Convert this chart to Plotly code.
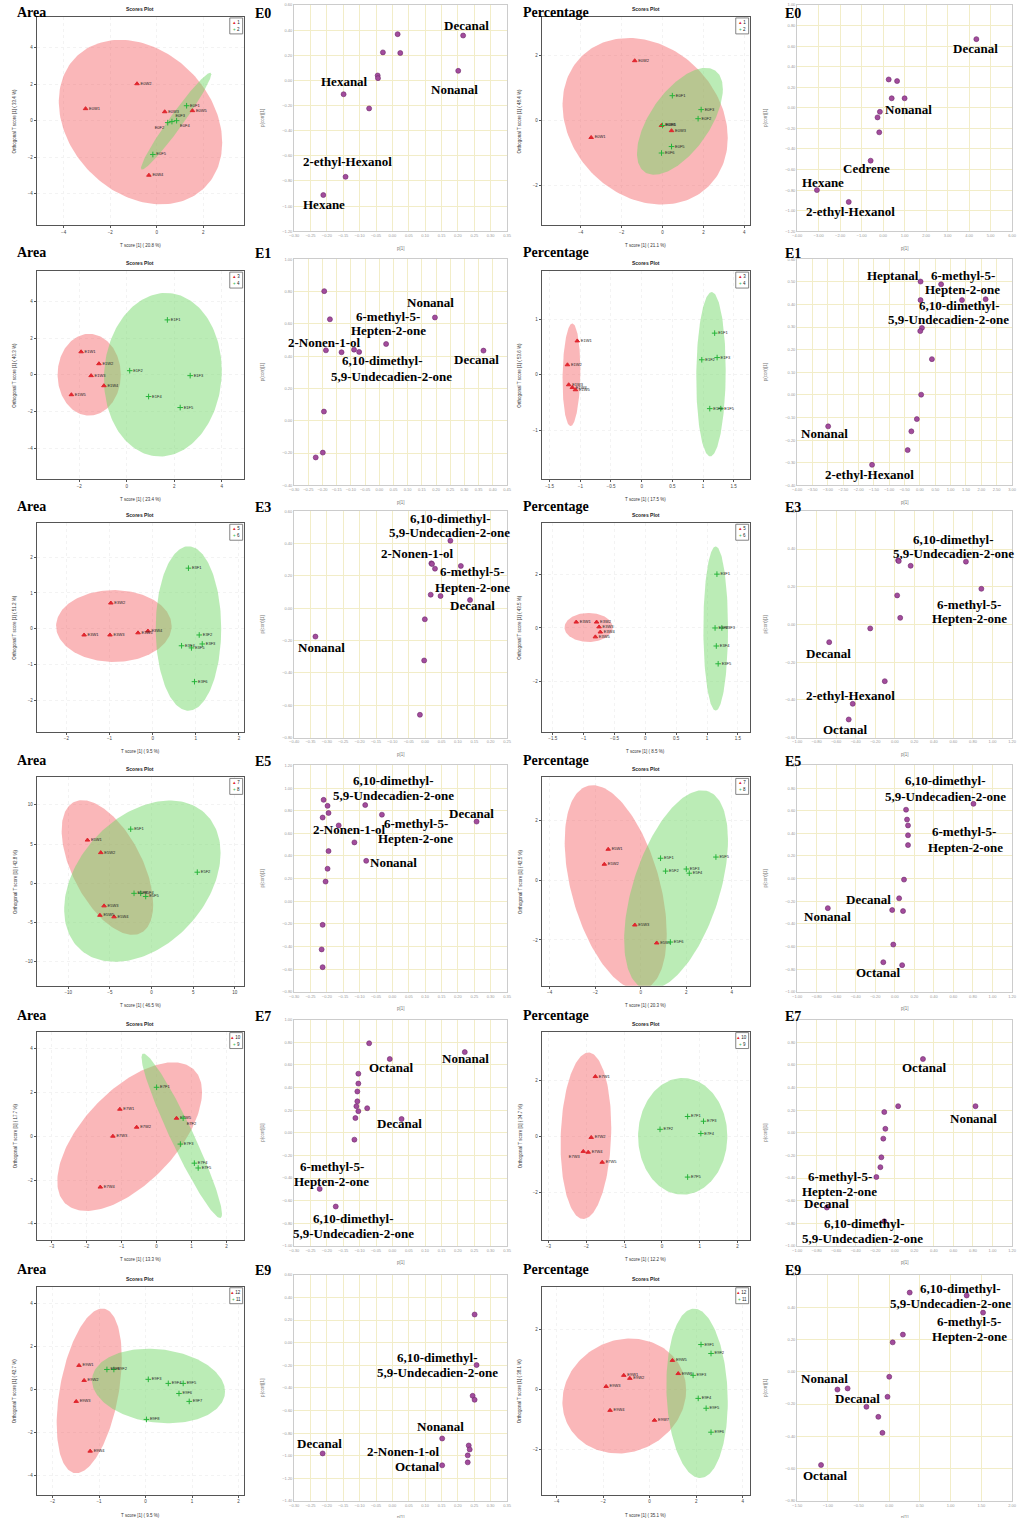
import numpy as np
import plotly.graph_objects as go

W, H = 1020, 1518

# =====================================================================
# Scores plots (OPLS-DA): (T score [1], Orthogonal T score [1], sample)
# group 1 = red, group 2 = green
# =====================================================================
e0_area_g1 = [(-3.06, 0.66, "E0W1"), (-0.85, 2.03, "E0W2"), (0.34, 0.49, "E0W3"),
              (-0.34, -3.00, "E0W4"), (1.53, 0.55, "E0W5")]
e0_area_g2 = [(1.28, 0.82, "E0F1"), (0.47, -0.11, "E0F2"), (0.65, -0.05, "E0F3"),
              (0.85, 0.00, "E0F4"), (-0.17, -1.86, "E0F5")]
e0_pct_g1 = [(-1.36, 1.85, "E0W2"), (-3.49, -0.52, "E0W1"), (0.44, -0.31, "E0W3"),
             (-0.05, -0.15, "E0W5")]
e0_pct_g2 = [(0.48, 0.77, "E0F1"), (1.89, 0.34, "E0F3"), (1.74, 0.06, "E0F2"),
             (0.00, -0.15, "E0F4"), (0.44, -0.80, "E0F5"), (-0.05, -1.00, "E0F6")]

e1_area_g1 = [(-1.92, 1.25, "E1W1"), (-1.17, 0.60, "E1W2"), (-1.50, -0.05, "E1W3"),
              (-0.96, -0.60, "E1W4"), (-2.33, -1.09, "E1W5")]
e1_area_g2 = [(1.71, 2.99, "E1F1"), (0.125, 0.22, "E1F2"), (2.67, -0.05, "E1F3"),
              (0.92, -1.19, "E1F4"), (2.25, -1.79, "E1F5")]
e1_pct_g1 = [(-1.05, 0.61, "E1W1"), (-1.21, 0.18, "E1W2"), (-1.19, -0.18, "E1W3"),
             (-1.13, -0.23, "E1W4"), (-1.08, -0.27, "E1W5")]
e1_pct_g2 = [(1.19, 0.75, "E1F1"), (0.98, 0.27, "E1F2"), (1.23, 0.31, "E1F3"),
             (1.11, -0.61, "E1F4"), (1.29, -0.61, "E1F5")]

e3_area_g1 = [(-0.97, 0.72, "E3W2"), (-1.59, -0.17, "E3W1"), (-0.99, -0.17, "E3W3"),
              (-0.34, -0.11, "E3W5"), (-0.11, -0.06, "E3W4")]
e3_area_g2 = [(0.83, 1.69, "E3F1"), (1.08, -0.17, "E3F2"), (1.15, -0.42, "E3F3"),
              (0.67, -0.47, "E3F4"), (0.90, -0.53, "E3F5"), (0.97, -1.47, "E3F6")]
e3_pct_g1 = [(-1.12, 0.22, "E3W1"), (-0.79, 0.22, "E3W2"), (-0.75, 0.04, "E3W3"),
             (-0.73, -0.15, "E3W4"), (-0.81, -0.33, "E3W5")]
e3_pct_g2 = [(1.16, 2.00, "E3F1"), (1.13, 0.00, "E3F2"), (1.24, 0.00, "E3F3"),
             (1.15, -0.67, "E3F4"), (1.18, -1.33, "E3F5")]

e5_area_g1 = [(-7.7, 5.5, "E5W1"), (-6.1, 3.9, "E5W2"), (-5.7, -2.9, "E5W3"),
              (-4.5, -4.3, "E5W4"), (-6.2, -4.1, "E5W5")]
e5_area_g2 = [(-2.5, 6.9, "E5F1"), (5.5, 1.4, "E5F2"), (-2.1, -1.3, "E5F3"),
              (-1.3, -1.3, "E5F4"), (-0.7, -1.7, "E5F5")]
e5_pct_g1 = [(-1.43, 1.03, "E5W1"), (-1.60, 0.53, "E5W2"), (-0.26, -1.50, "E5W3"),
             (0.70, -2.10, "E5W4")]
e5_pct_g2 = [(0.87, 0.73, "E5F1"), (1.09, 0.30, "E5F2"), (2.00, 0.37, "E5F3"),
             (2.13, 0.23, "E5F4"), (3.30, 0.77, "E5F5"), (1.30, -2.07, "E5F6")]

e7_area_g1 = [(-1.05, 1.23, "E7W1"), (-0.57, 0.41, "E7W2"), (-1.25, 0.00, "E7W3"),
              (-1.61, -2.32, "E7W4"), (0.57, 0.82, "E7W5")]
e7_area_g2 = [(0.00, 2.23, "E7F1"), (0.76, 0.82, "E7F2"), (0.68, -0.36, "E7F3"),
              (1.08, -1.23, "E7F4"), (1.19, -1.45, "E7F5")]
e7_pct_g1 = [(-1.76, 2.14, "E7W1"), (-1.87, -0.04, "E7W2"), (-2.08, -0.54, "E7W3"),
             (-1.95, -0.57, "E7W4"), (-1.58, -0.93, "E7W5")]
e7_pct_g2 = [(0.68, 0.71, "E7F1"), (-0.05, 0.25, "E7F2"), (1.10, 0.54, "E7F3"),
             (1.03, 0.10, "E7F4"), (0.68, -1.46, "E7F5")]

e9_area_g1 = [(-1.43, 1.12, "E9W1"), (-1.32, 0.42, "E9W2"), (-1.49, -0.56, "E9W3"),
              (-1.19, -2.88, "E9W4")]
e9_area_g2 = [(-0.83, 0.93, "E9F1"), (-0.68, 0.93, "E9F2"), (0.06, 0.47, "E9F3"),
              (0.49, 0.28, "E9F4"), (0.81, 0.28, "E9F5"), (0.72, -0.19, "E9F6"),
              (0.94, -0.56, "E9F7"), (0.02, -1.40, "E9F8")]
e9_pct_g1 = [(-1.11, 0.47, "E9W1"), (-0.85, 0.37, "E9W2"), (-1.87, 0.10, "E9W3"),
             (-1.70, -0.70, "E9W4"), (0.98, 0.97, "E9W5"), (1.23, 0.53, "E9W6"),
             (0.21, -1.03, "E9W7")]
e9_pct_g2 = [(2.21, 1.50, "E9F1"), (2.64, 1.20, "E9F2"), (1.87, 0.47, "E9F3"),
             (2.09, -0.30, "E9F4"), (2.43, -0.63, "E9F5"), (2.64, -1.43, "E9F6")]

# confidence ellipses per scores plot: (centre x, half-width, centre y, half-height, correlation)
e0_area_ell = [(-0.70, 3.51, -0.08, 4.52, -0.25), (0.83, 1.51, -0.03, 2.66, 0.97)]
e0_pct_ell = [(-0.85, 4.04, -0.02, 2.57, -0.20), (0.85, 2.10, -0.02, 1.65, 0.60)]
e1_area_ell = [(-1.58, 1.33, 0.00, 2.23, 0.00), (1.52, 2.48, 0.00, 4.46, 0.05)]
e1_pct_ell = [(-1.145, 0.145, 0.00, 0.925, 0.10), (1.13, 0.24, 0.01, 1.48, 0.05)]
e3_area_ell = [(-0.90, 1.34, 0.08, 1.00, 0.00), (0.83, 0.76, 0.01, 2.29, 0.00)]
e3_pct_ell = [(-0.92, 0.39, 0.02, 0.54, 0.00), (1.14, 0.20, -0.02, 3.05, 0.00)]
e5_area_ell = [(-5.3, 5.5, 2.0, 8.6, -0.55), (-1.1, 9.4, 0.25, 10.3, 0.35)]
e5_pct_ell = [(-1.10, 2.24, -0.25, 3.42, -0.45), (1.55, 2.28, -0.33, 3.33, 0.50)]
e7_area_ell = [(-0.77, 2.07, -0.02, 3.39, 0.60), (0.72, 1.15, 0.02, 3.75, -0.95)]
e7_pct_ell = [(-2.01, 0.67, 0.02, 2.98, 0.10), (0.55, 1.18, 0.00, 2.09, 0.00)]
e9_area_ell = [(-1.21, 0.70, -0.07, 3.84, 0.40), (0.28, 1.43, 0.16, 1.74, -0.15)]
e9_pct_ell = [(-1.09, 2.66, -0.22, 1.92, 0.10), (2.04, 1.32, -0.13, 2.83, -0.10)]

# class names shown in each scores-plot legend
classes = [("1", "2"), ("3", "4"), ("5", "6"), ("7", "8"), ("10", "9"), ("12", "11")]
area_x_titles = ["T score [1] ( 20.8 %)", "T score [1] ( 23.4 %)", "T score [1] ( 9.5 %)",
                 "T score [1] ( 46.5 %)", "T score [1] ( 13.3 %)", "T score [1] ( 9.5 %)"]
area_y_titles = ["Orthogonal T score [1] ( 33.4 %)", "Orthogonal T score [1] ( 40.3 %)",
                 "Orthogonal T score [1] ( 51.2 %)", "Orthogonal T score [1] ( 42.8 %)",
                 "Orthogonal T score [1] ( 17.7 %)", "Orthogonal T score [1] ( 42.7 %)"]
pct_x_titles = ["T score [1] ( 21.1 %)", "T score [1] ( 17.5 %)", "T score [1] ( 8.5 %)",
                "T score [1] ( 20.3 %)", "T score [1] ( 12.2 %)", "T score [1] ( 35.1 %)"]
pct_y_titles = ["Orthogonal T score [1] ( 48.4 %)", "Orthogonal T score [1] ( 53.6 %)",
                "Orthogonal T score [1] ( 43.5 %)", "Orthogonal T score [1] ( 42.5 %)",
                "Orthogonal T score [1] ( 34.7 %)", "Orthogonal T score [1] ( 38.1 %)"]

# =====================================================================
# Loadings S-plots: (p[1], p(corr)[1])
# =====================================================================
e0_area_load = [(0.016, 0.368), (0.216, 0.357), (-0.029, 0.223), (0.024, 0.218),
                (0.201, 0.076), (-0.045, 0.039), (-0.044, 0.018), (-0.149, -0.110),
                (-0.071, -0.223), (-0.143, -0.767), (-0.211, -0.912)]
e0_pct_load = [(4.34, 0.668), (0.26, 0.276), (0.65, 0.26), (0.40, 0.093), (1.00, 0.093),
               (-0.15, -0.039), (-0.26, -0.093), (-0.18, -0.238), (-0.58, -0.514),
               (-3.08, -0.80), (-1.60, -0.915)]
e1_area_load = [(-0.194, 0.802), (-0.174, 0.628), (-0.188, 0.436), (-0.133, 0.424),
                (-0.089, 0.440), (-0.071, 0.426), (0.024, 0.475), (0.196, 0.639),
                (0.367, 0.434), (-0.195, 0.057), (-0.199, -0.197), (-0.224, -0.227)]
e1_pct_load = [(0.02, 0.501), (0.69, 0.489), (0.02, 0.419), (1.37, 0.419), (2.14, 0.423),
               (0.065, 0.296), (0.01, 0.282), (0.39, 0.158), (0.04, 0.001),
               (-0.10, -0.107), (-0.28, -0.161), (-0.40, -0.244), (-1.56, -0.309),
               (-2.99, -0.139)]
e3_area_load = [(0.077, 0.418), (0.019, 0.278), (0.021, 0.274), (0.030, 0.245),
                (0.109, 0.262), (0.017, 0.084), (0.047, 0.076), (0.137, 0.051),
                (-0.001, -0.068), (-0.003, -0.323), (-0.016, -0.659), (-0.335, -0.175)]
e3_pct_load = [(0.034, 0.340), (0.040, 0.336), (0.162, 0.311), (0.728, 0.333),
               (0.886, 0.189), (0.024, 0.154), (0.055, 0.035), (-0.252, -0.021),
               (-0.672, -0.094), (-0.103, -0.301), (-0.431, -0.421), (-0.472, -0.504)]
e5_area_load = [(-0.210, 0.896), (-0.198, 0.843), (-0.195, 0.780), (-0.213, 0.740),
                (-0.164, 0.670), (-0.083, 0.850), (-0.032, 0.765), (-0.116, 0.520),
                (-0.080, 0.357), (-0.195, 0.443), (-0.198, 0.287), (-0.204, 0.174),
                (-0.213, -0.209), (-0.216, -0.426), (-0.213, -0.583), (0.257, 0.704)]
e5_pct_load = [(0.805, 0.661), (0.115, 0.609), (0.125, 0.522), (0.135, 0.470),
               (0.135, 0.383), (0.135, 0.296), (0.094, -0.009), (0.044, -0.174),
               (-0.027, -0.278), (0.084, -0.287), (-0.686, -0.261), (-0.016, -0.583),
               (0.075, -0.765), (-0.118, -0.739)]
e7_area_load = [(-0.071, 0.791), (-0.104, 0.522), (-0.104, 0.435), (-0.008, 0.652),
                (-0.107, 0.365), (-0.107, 0.278), (-0.110, 0.235), (-0.104, 0.191),
                (-0.077, 0.217), (-0.113, 0.130), (-0.116, -0.061), (0.028, 0.122),
                (0.221, 0.713), (-0.222, -0.496), (-0.173, -0.652)]
e7_pct_load = [(0.288, 0.652), (0.034, 0.235), (-0.108, 0.183), (-0.097, 0.035),
               (-0.118, -0.052), (-0.138, -0.217), (-0.148, -0.304), (-0.189, -0.391),
               (0.826, 0.235), (-0.696, -0.661), (-0.108, -0.783)]
e9_area_load = [(0.251, 0.249), (0.257, -0.198), (0.245, -0.470), (0.251, -0.505),
                (0.152, -0.847), (0.233, -0.909), (0.236, -0.944), (0.230, -0.996),
                (0.230, -1.058), (0.152, -1.084), (-0.213, -0.979)]
e9_pct_load = [(0.333, 0.490), (1.261, 0.472), (1.528, 0.366), (0.222, 0.230),
               (0.056, 0.182), (0.000, -0.031), (-0.678, -0.103), (-0.844, -0.110),
               (-0.028, -0.155), (-0.372, -0.217), (-0.178, -0.279), (-0.111, -0.378),
               (-1.111, -0.577)]

# compound names written on each S-plot, with their page position (px)
e0_area_names = [("Decanal", 466, 23), ("Hexanal", 343, 79), ("Nonanal", 454, 87),
                 ("2-ethyl-Hexanol", 346, 159), ("Hexane", 322, 202)]
e0_pct_names = [("Decanal", 980, 46), ("Nonanal", 912, 107), ("Cedrene", 870, 166),
                ("Hexane", 826, 180), ("2-ethyl-Hexanol", 854, 209)]
e1_area_names = [("Nonanal", 430, 300), ("6-methyl-5-", 387, 315), ("Hepten-2-one", 387, 329),
                 ("2-Nonen-1-ol", 323, 341), ("Decanal", 476, 358),
                 ("6,10-dimethyl-", 381, 359), ("5,9-Undecadien-2-one", 390, 375)]
e1_pct_names = [("Heptanal", 897, 273), ("6-methyl-5-", 967, 273), ("Hepten-2-one", 967, 287),
                ("6,10-dimethyl-", 964, 303), ("5,9-Undecadien-2-one", 953, 318),
                ("Nonanal", 828, 432), ("2-ethyl-Hexanol", 873, 473)]
e3_area_names = [("6,10-dimethyl-", 450, 517), ("5,9-Undecadien-2-one", 449, 531),
                 ("2-Nonen-1-ol", 417, 552), ("6-methyl-5-", 472, 570),
                 ("Hepten-2-one", 472, 586), ("Decanal", 472, 604), ("Nonanal", 320, 647)]
e3_pct_names = [("6,10-dimethyl-", 958, 538), ("5,9-Undecadien-2-one", 958, 552),
                ("6-methyl-5-", 974, 603), ("Hepten-2-one", 974, 618), ("Decanal", 832, 653),
                ("2-ethyl-Hexanol", 854, 695), ("Octanal", 848, 729)]
e5_area_names = [("6,10-dimethyl-", 392, 780), ("5,9-Undecadien-2-one", 392, 795),
                 ("Decanal", 471, 813), ("6-methyl-5-", 415, 823), ("2-Nonen-1-ol", 348, 829),
                 ("Hepten-2-one", 415, 838), ("Nonanal", 392, 862)]
e5_pct_names = [("6,10-dimethyl-", 950, 780), ("5,9-Undecadien-2-one", 950, 796),
                ("6-methyl-5-", 968, 831), ("Hepten-2-one", 970, 847), ("Decanal", 872, 899),
                ("Nonanal", 831, 917), ("Octanal", 882, 973)]
e7_area_names = [("Nonanal", 465, 1059), ("Octanal", 390, 1068), ("Decanal", 398, 1124),
                 ("6-methyl-5-", 330, 1167), ("Hepten-2-one", 330, 1182),
                 ("6,10-dimethyl-", 352, 1220), ("5,9-Undecadien-2-one", 352, 1235)]
e7_pct_names = [("Octanal", 928, 1068), ("Nonanal", 978, 1119), ("6-methyl-5-", 843, 1177),
                ("Hepten-2-one", 843, 1192), ("Decanal", 830, 1204),
                ("6,10-dimethyl-", 868, 1225), ("5,9-Undecadien-2-one", 866, 1240)]
e9_area_names = [("6,10-dimethyl-", 437, 1359), ("5,9-Undecadien-2-one", 437, 1374),
                 ("Nonanal", 440, 1428), ("Decanal", 318, 1445), ("2-Nonen-1-ol", 402, 1453),
                 ("Octanal", 416, 1468)]
e9_pct_names = [("6,10-dimethyl-", 965, 1290), ("5,9-Undecadien-2-one", 955, 1305),
                ("6-methyl-5-", 974, 1323), ("Hepten-2-one", 974, 1338), ("Nonanal", 828, 1380),
                ("Decanal", 861, 1400), ("Octanal", 828, 1477)]

row_names = ["E0", "E1", "E3", "E5", "E7", "E9"]

# =====================================================================
# Page geometry (px)
# =====================================================================
ROW_TOP = [0, 255, 508, 763, 1018, 1274]
HEAD_Y = [10, 250, 505, 760, 1016, 1271]
SCORE_X = {"area": (32, 241), "pct": (542, 752)}
LOAD_X = {"area": (292, 507), "pct": (800, 1017)}

# scores axes: (x range, y range, x ticks, y ticks)
score_axes = {
    (0, "area"): ([-5.16, 3.73], [-5.75, 5.70], [-4, -2, 0, 2], [-4, -2, 0, 2, 4]),
    (0, "pct"): ([-5.91, 4.26], [-3.23, 3.20], [-4, -2, 0, 2, 4], [-2, 0, 2]),
    (1, "area"): ([-3.79, 4.92], [-5.71, 5.65], [-2, 0, 2, 4], [-4, -2, 0, 2, 4]),
    (1, "pct"): ([-1.63, 1.76], [-1.885, 1.867], [-1.5, -1, -0.5, 0, 0.5, 1, 1.5], [-1, 0, 1]),
    (2, "area"): ([-2.69, 2.11], [-2.86, 2.94], [-2, -1, 0, 1, 2], [-2, -1, 0, 1, 2]),
    (2, "pct"): ([-1.68, 1.69], [-3.85, 3.89], [-1.5, -1, -0.5, 0, 0.5, 1, 1.5], [-2, 0, 2]),
    (3, "area"): ([-13.8, 11.07], [-13.1, 13.5], [-10, -5, 0, 5, 10], [-10, -5, 0, 5, 10]),
    (3, "pct"): ([-4.35, 4.78], [-3.53, 3.43], [-4, -2, 0, 2, 4], [-2, 0, 2]),
    (4, "area"): ([-3.43, 2.49], [-4.73, 4.77], [-3, -2, -1, 0, 1, 2], [-4, -2, 0, 2, 4]),
    (4, "pct"): ([-3.18, 2.32], [-3.71, 3.75], [-3, -2, -1, 0, 1, 2], [-2, 0, 2]),
    (5, "area"): ([-2.34, 2.11], [-4.93, 4.79], [-2, -1, 0, 1, 2], [-4, -2, 0, 2, 4]),
    (5, "pct"): ([-4.64, 4.30], [-3.53, 3.43], [-4, -2, 0, 2, 4], [-2, 0, 2]),
}
# loadings axes: (x range, x step, y range, y step)
load_axes = {
    (0, "area"): ([-0.30, 0.35], 0.05, [-1.2, 0.6], 0.2),
    (0, "pct"): ([-4.0, 6.0], 1.0, [-1.2, 1.0], 0.2),
    (1, "area"): ([-0.30, 0.45], 0.05, [-0.4, 1.0], 0.2),
    (1, "pct"): ([-4.0, 3.0], 0.5, [-0.4, 0.6], 0.1),
    (2, "area"): ([-0.40, 0.25], 0.05, [-0.8, 0.6], 0.2),
    (2, "pct"): ([-1.0, 1.2], 0.2, [-0.6, 0.6], 0.2),
    (3, "area"): ([-0.30, 0.35], 0.05, [-0.8, 1.2], 0.2),
    (3, "pct"): ([-1.0, 1.2], 0.2, [-1.0, 1.0], 0.2),
    (4, "area"): ([-0.30, 0.35], 0.05, [-1.0, 1.0], 0.2),
    (4, "pct"): ([-1.0, 1.2], 0.2, [-1.0, 1.0], 0.2),
    (5, "area"): ([-0.30, 0.35], 0.05, [-1.4, 0.6], 0.2),
    (5, "pct"): ([-1.5, 2.0], 0.5, [-0.8, 0.6], 0.2),
}

score_data = {
    (0, "area"): (e0_area_g1, e0_area_g2, e0_area_ell),
    (0, "pct"): (e0_pct_g1, e0_pct_g2, e0_pct_ell),
    (1, "area"): (e1_area_g1, e1_area_g2, e1_area_ell),
    (1, "pct"): (e1_pct_g1, e1_pct_g2, e1_pct_ell),
    (2, "area"): (e3_area_g1, e3_area_g2, e3_area_ell),
    (2, "pct"): (e3_pct_g1, e3_pct_g2, e3_pct_ell),
    (3, "area"): (e5_area_g1, e5_area_g2, e5_area_ell),
    (3, "pct"): (e5_pct_g1, e5_pct_g2, e5_pct_ell),
    (4, "area"): (e7_area_g1, e7_area_g2, e7_area_ell),
    (4, "pct"): (e7_pct_g1, e7_pct_g2, e7_pct_ell),
    (5, "area"): (e9_area_g1, e9_area_g2, e9_area_ell),
    (5, "pct"): (e9_pct_g1, e9_pct_g2, e9_pct_ell),
}
load_data = {
    (0, "area"): (e0_area_load, e0_area_names), (0, "pct"): (e0_pct_load, e0_pct_names),
    (1, "area"): (e1_area_load, e1_area_names), (1, "pct"): (e1_pct_load, e1_pct_names),
    (2, "area"): (e3_area_load, e3_area_names), (2, "pct"): (e3_pct_load, e3_pct_names),
    (3, "area"): (e5_area_load, e5_area_names), (3, "pct"): (e5_pct_load, e5_pct_names),
    (4, "area"): (e7_area_load, e7_area_names), (4, "pct"): (e7_pct_load, e7_pct_names),
    (5, "area"): (e9_area_load, e9_area_names), (5, "pct"): (e9_pct_load, e9_pct_names),
}

# sample-label placement where neighbouring labels would collide
# key: (row, kind, group index) -> list of text positions
label_side = {
    (0, "area", 1): ["middle right", "bottom left", "top right", "bottom right", "middle right"],
    (4, "pct", 0): ["middle right", "middle right", "bottom left", "middle right", "middle right"],
    (4, "area", 1): ["middle right", "bottom right", "middle right", "middle right", "middle right"],
}

# =====================================================================
# Styles
# =====================================================================
RED = "#e0262e"
GREEN = "#27b43a"
RED_FILL = "rgba(245,95,100,0.45)"
GREEN_FILL = "rgba(110,215,100,0.47)"
PURPLE = "#a24c9c"
SANS = "Liberation Sans"
SERIF = "Liberation Serif"


def ellipse_xy(cx, sx, cy, sy, rho, n=180):
    t = np.linspace(0, 2 * np.pi, n)
    x = cx + sx * np.cos(t)
    y = cy + sy * (rho * np.cos(t) + np.sqrt(1 - rho ** 2) * np.sin(t))
    return x, y


def px(xp):
    return xp / W


def py(yp):
    return 1 - yp / H


fig = go.Figure()
layout_axes = {}
annotations = []
shapes = []
counter = [0]


def new_axes(box, xr, yr, xstyle, ystyle):
    counter[0] += 1
    k = counter[0]
    sfx = "" if k == 1 else str(k)
    left, right, top, bottom = box
    layout_axes["xaxis" + sfx] = dict(domain=[px(left), px(right)], range=xr,
                                      anchor="y" + sfx, **xstyle)
    layout_axes["yaxis" + sfx] = dict(domain=[py(bottom), py(top)], range=yr,
                                      anchor="x" + sfx, **ystyle)
    return "x" + sfx, "y" + sfx


def score_style(ticks):
    return dict(showline=True, mirror=True, linecolor="#555555", linewidth=1,
                ticks="outside", ticklen=2, tickcolor="#555555", tickvals=ticks,
                tickfont=dict(size=4.5, color="#444444", family=SANS),
                showgrid=True, gridcolor="#f3f3f3", griddash="dot", zeroline=False)


def load_style(rng, step):
    return dict(showline=True, mirror=True, linecolor="#cccccc", linewidth=1,
                ticks="", tick0=rng[0], dtick=step, tickformat=".2f",
                tickfont=dict(size=4, color="#9a9a9a", family=SANS),
                showgrid=True, gridcolor="#f2edc8", gridwidth=1, zeroline=False)


def text_ann(txt, x, y, size, color="#000000", family=SERIF, angle=0, xanchor="center"):
    annotations.append(dict(text=txt, x=px(x), y=py(y), xref="paper", yref="paper",
                            showarrow=False, xanchor=xanchor, yanchor="middle",
                            textangle=angle, font=dict(size=size, color=color, family=family)))


for r in range(6):
    top = ROW_TOP[r]
    # row headers
    text_ann("<b>Area</b>", 10, HEAD_Y[r], 14, xanchor="left")
    text_ann(f"<b>{row_names[r]}</b>", 250, HEAD_Y[r] + 1, 14, xanchor="left")
    text_ann("<b>Percentage</b>", 521, HEAD_Y[r], 14, xanchor="left")
    text_ann(f"<b>{row_names[r]}</b>", 786, HEAD_Y[r] + 1, 14, xanchor="left")

    for kind in ("area", "pct"):
        # ---------------- scores plot ----------------
        left, right = SCORE_X[kind]
        sbox = (left, right, top + 14, top + 223)
        xr, yr, xt, yt = score_axes[(r, kind)]
        xa, ya = new_axes(sbox, xr, yr, score_style(xt), score_style(yt))
        g1, g2, ells = score_data[(r, kind)]
        for (cx, sx, cy, sy, rho), fill in zip(ells, (RED_FILL, GREEN_FILL)):
            ex, ey = ellipse_xy(cx, sx, cy, sy, rho)
            fig.add_trace(go.Scatter(x=ex, y=ey, xaxis=xa, yaxis=ya, mode="lines",
                                     fill="toself", fillcolor=fill, line=dict(width=0),
                                     hoverinfo="skip", showlegend=False))
        for gi, (grp, col, sym) in enumerate(((g1, RED, "triangle-up"), (g2, GREEN, "cross-thin"))):
            side = label_side.get((r, kind, gi), "middle right")
            fig.add_trace(go.Scatter(
                x=[p[0] for p in grp], y=[p[1] for p in grp], text=[p[2] for p in grp],
                xaxis=xa, yaxis=ya, mode="markers+text", textposition=side,
                textfont=dict(size=4, color="#222222", family=SANS),
                marker=dict(symbol=sym, size=4, color=col, line=dict(width=1, color=col)),
                showlegend=False))
        cxp = (left + right) / 2
        text_ann("<b>Scores Plot</b>", cxp, top + 6, 5, color="#222222", family=SANS)
        xt_title = (area_x_titles if kind == "area" else pct_x_titles)[r]
        yt_title = (area_y_titles if kind == "area" else pct_y_titles)[r]
        text_ann(xt_title, cxp, top + 243, 4.5, color="#333333", family=SANS)
        text_ann(yt_title, left - 22, top + 118, 4.5, color="#333333", family=SANS, angle=-90)
        # class legend box in the top-right corner
        shapes.append(dict(type="rect", xref="paper", yref="paper",
                           x0=px(right - 14), x1=px(right - 1), y0=py(top + 31), y1=py(top + 15),
                           line=dict(color="#666666", width=0.8), fillcolor="white"))
        c1, c2 = classes[r]
        text_ann(f'<span style="color:{RED}">▴</span> {c1}', right - 7.5, top + 19.5, 4.5,
                 color="#222222", family=SANS)
        text_ann(f'<span style="color:{GREEN}">+</span> {c2}', right - 7.5, top + 26.5, 4.5,
                 color="#222222", family=SANS)

        # ---------------- loadings S-plot ----------------
        lleft, lright = LOAD_X[kind]
        lbox = (lleft, lright, top + 2, top + 229)
        lxr, lxs, lyr, lys = load_axes[(r, kind)]
        xa, ya = new_axes(lbox, lxr, lyr, load_style(lxr, lxs), load_style(lyr, lys))
        pts, names = load_data[(r, kind)]
        fig.add_trace(go.Scatter(
            x=[p[0] for p in pts], y=[p[1] for p in pts], xaxis=xa, yaxis=ya, mode="markers",
            marker=dict(size=5, color=PURPLE, line=dict(width=0.6, color="#6e2a6c")),
            showlegend=False))
        for name, nx, ny in names:
            text_ann(f"<b>{name}</b>", nx, ny, 13)
        lc = (lleft + lright) / 2
        text_ann("p[1]", lc, top + 246, 4.5, color="#777777", family=SANS)
        text_ann("p(corr)[1]", lleft - 32, top + 115, 4.5, color="#777777", family=SANS, angle=-90)

fig.update_layout(
    width=W, height=H, margin=dict(l=0, r=0, t=0, b=0),
    paper_bgcolor="white", plot_bgcolor="white", showlegend=False,
    annotations=annotations, shapes=shapes, **layout_axes,
)

fig.write_html("out.html")
